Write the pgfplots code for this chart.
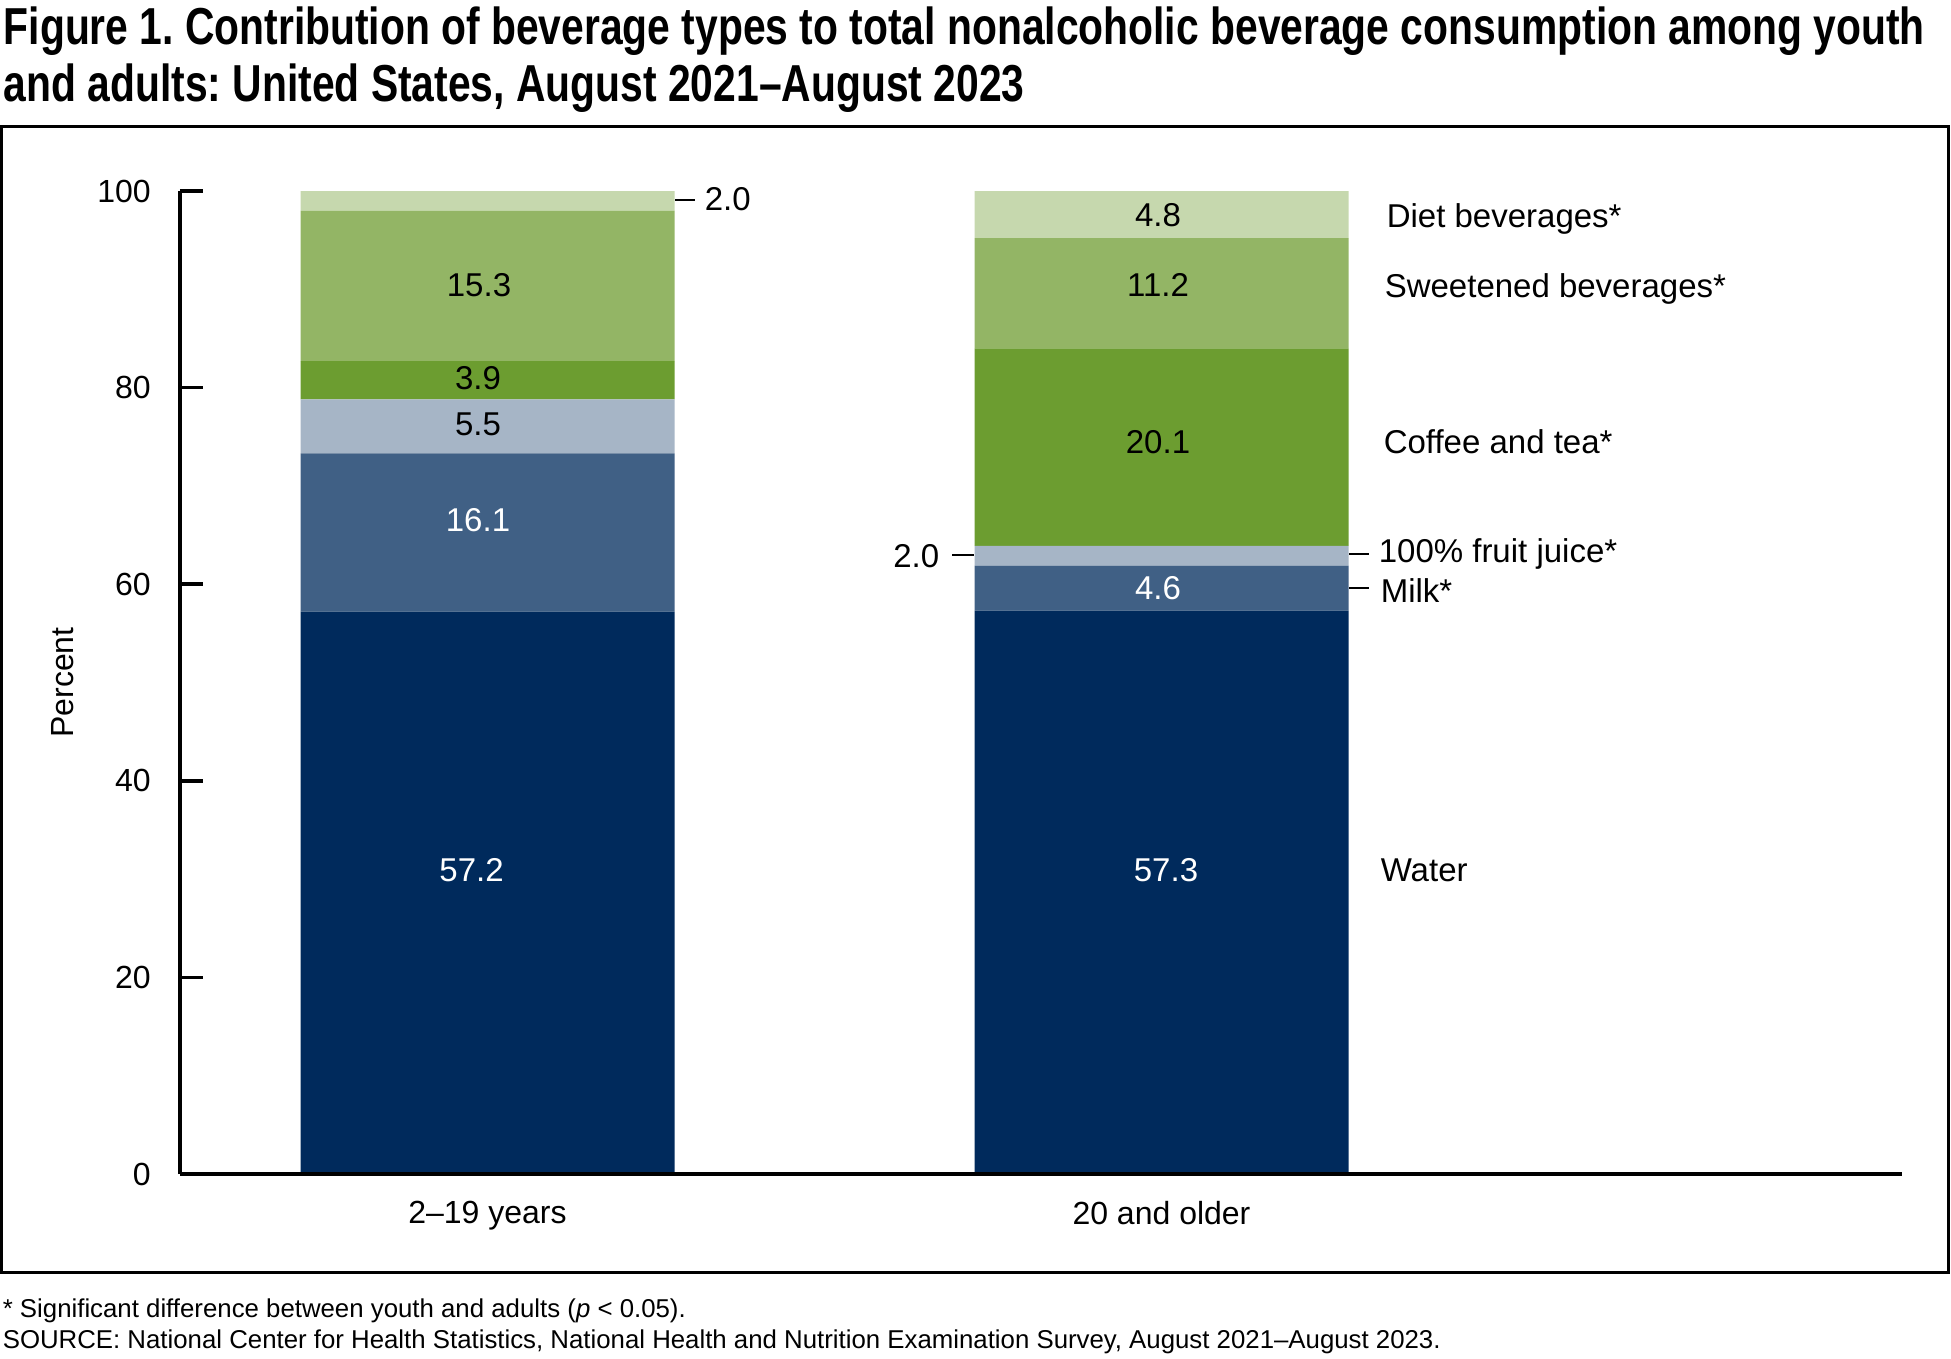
\documentclass[border=0pt]{standalone}
\usepackage{fontspec}
\setmainfont{Liberation Sans}
\newfontfamily\titlefont[FakeStretch=0.785]{Liberation Sans}
\usepackage{pgfplots}
\pgfplotsset{compat=1.18}
\frenchspacing

\definecolor{water}{HTML}{002A5C}
\definecolor{milk}{HTML}{406085}
\definecolor{juice}{HTML}{A6B5C6}
\definecolor{coffee}{HTML}{6C9D30}
\definecolor{sweet}{HTML}{93B565}
\definecolor{diet}{HTML}{C6D8AE}

\newcommand{\lab}{\fontsize{8}{9.6}\selectfont}
\newcommand{\vlab}{\fontsize{8.25}{9.9}\selectfont}

\begin{document}
\begin{tikzpicture}
% page layout in reference pixels (1 px = 0.25pt)
\begin{scope}[x=0.25pt,y=-0.25pt]
  \useasboundingbox (0,0) rectangle (1951,1359);
  \draw[line width=0.75pt] (1.5,126.5) rectangle (1948.5,1272.5);
  \node[anchor=base west, inner sep=0, font=\titlefont\bfseries\fontsize{13}{15}\selectfont]
    at (3,45) {Figure 1. Contribution of beverage types to total nonalcoholic beverage consumption among youth};
  \node[anchor=base west, inner sep=0, font=\titlefont\bfseries\fontsize{13}{15}\selectfont]
    at (3,102) {and adults: United States, August 2021–August 2023};
  \node[anchor=base west, inner sep=0, font=\fontsize{6.45}{7.7}\selectfont]
    at (2,1317) {* Significant difference between youth and adults (\textit{p} < 0.05).};
  \node[anchor=base west, inner sep=0, font=\fontsize{6.45}{7.7}\selectfont]
    at (2,1348) {SOURCE: National Center for Health Statistics, National Health and Nutrition Examination Survey, August 2021–August 2023.};
\end{scope}

\begin{axis}[
  at={(45pt,-293.5pt)}, anchor=south west,
  scale only axis, width=430.5pt, height=245.75pt,
  xmin=180, xmax=1902, ymin=0, ymax=100,
  ybar stacked, bar width=374,
  axis lines=left, axis line style={-, line width=0.9pt},
  axis on top, clip=false,
  ytick={0,20,40,60,80,100},
  tick align=inside, major tick length=5.75pt,
  y tick style={line width=0.9pt, black},
  xtick={487.5,1161.5}, xticklabels={2–19 years,20 and older},
  x tick style={draw=none},
  tick label style={font=\lab},
  xticklabel style={yshift=-3.2pt},
  yticklabel style={xshift=-3.8pt},
  /pgf/number format/assume math mode=true,
  ylabel={Percent},
  ylabel style={at={(axis description cs:-0.068,0.5)}, anchor=center, font=\lab},
  after end axis/.code={
    % value labels, youth
    \node[font=\vlab, white] at (axis cs:471.6,30.9) {57.2};
    \node[font=\vlab, white] at (axis cs:478,66.5) {16.1};
    \node[font=\vlab] at (axis cs:478,76.3) {5.5};
    \node[font=\vlab] at (axis cs:478,81.0) {3.9};
    \node[font=\vlab] at (axis cs:479,90.4) {15.3};
    \draw[line width=0.5pt] (axis cs:675,99.1) -- (axis cs:695,99.1);
    \node[font=\vlab, anchor=west, inner sep=0] at (axis cs:704,99.2) {2.0};
    % value labels, adults
    \node[font=\vlab, white] at (axis cs:1166,30.9) {57.3};
    \node[font=\vlab, white] at (axis cs:1158,59.6) {4.6};
    \draw[line width=0.5pt] (axis cs:952,63.0) -- (axis cs:974,63.0);
    \node[font=\vlab, anchor=east, inner sep=0] at (axis cs:940,62.9) {2.0};
    \node[font=\vlab] at (axis cs:1158,74.5) {20.1};
    \node[font=\vlab] at (axis cs:1158,90.4) {11.2};
    \node[font=\vlab] at (axis cs:1158,97.5) {4.8};
    % category labels
    \node[font=\vlab, anchor=base west, inner sep=0] at (axis cs:1386,96.3) {Diet beverages*};
    \node[font=\vlab, anchor=base west, inner sep=0] at (axis cs:1384,89.2) {Sweetened beverages*};
    \node[font=\vlab, anchor=base west, inner sep=0] at (axis cs:1383,73.3) {Coffee and tea*};
    \draw[line width=0.5pt] (axis cs:1349,63.1) -- (axis cs:1369,63.1);
    \node[font=\vlab, anchor=base west, inner sep=0] at (axis cs:1378,62.2) {100\% fruit juice*};
    \draw[line width=0.5pt] (axis cs:1349,59.6) -- (axis cs:1369,59.6);
    \node[font=\vlab, anchor=base west, inner sep=0] at (axis cs:1380,58.1) {Milk*};
    \node[font=\vlab, anchor=base west, inner sep=0] at (axis cs:1380,29.8) {Water};
  },
]
\addplot[fill=water, draw=none]  coordinates {(487.5,57.2) (1161.5,57.3)};
\addplot[fill=milk, draw=none]   coordinates {(487.5,16.1) (1161.5,4.6)};
\addplot[fill=juice, draw=none]  coordinates {(487.5,5.5)  (1161.5,2.0)};
\addplot[fill=coffee, draw=none] coordinates {(487.5,3.9)  (1161.5,20.1)};
\addplot[fill=sweet, draw=none]  coordinates {(487.5,15.3) (1161.5,11.2)};
\addplot[fill=diet, draw=none]   coordinates {(487.5,2.0)  (1161.5,4.8)};
\end{axis}
\end{tikzpicture}
\end{document}
